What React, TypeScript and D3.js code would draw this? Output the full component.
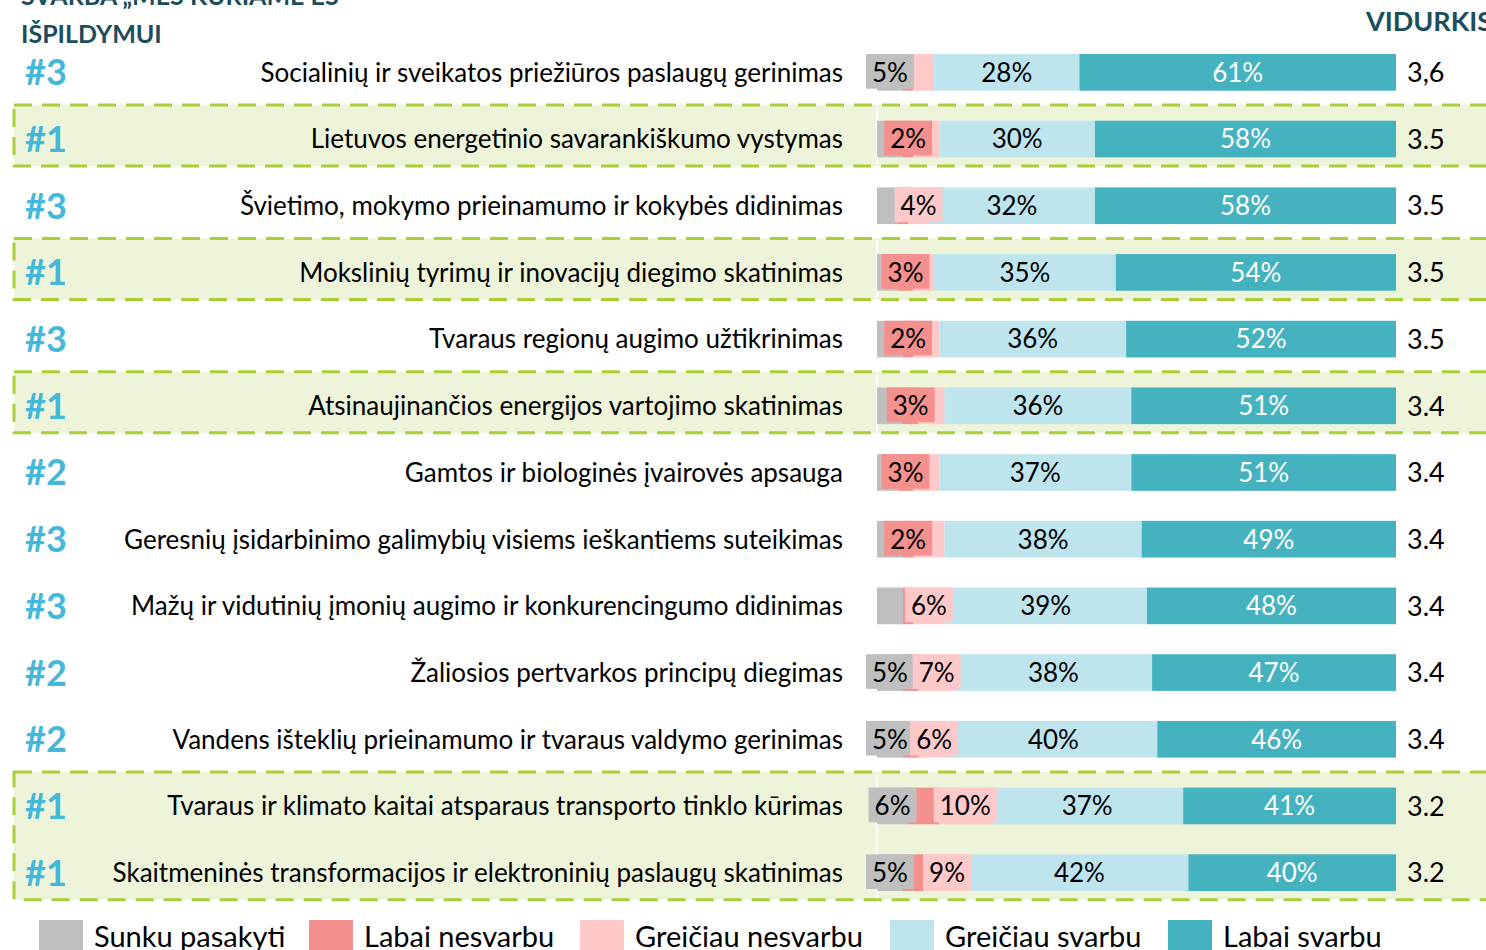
import React, { useEffect, useRef } from "react";
import * as d3 from "d3";

const categories = [
  "Socialinių ir sveikatos priežiūros paslaugų gerinimas",
  "Lietuvos energetinio savarankiškumo vystymas",
  "Švietimo, mokymo prieinamumo ir kokybės didinimas",
  "Mokslinių tyrimų ir inovacijų diegimo skatinimas",
  "Tvaraus regionų augimo užtikrinimas",
  "Atsinaujinančios energijos vartojimo skatinimas",
  "Gamtos ir biologinės įvairovės apsauga",
  "Geresnių įsidarbinimo galimybių visiems ieškantiems suteikimas",
  "Mažų ir vidutinių įmonių augimo ir konkurencingumo didinimas",
  "Žaliosios pertvarkos principų diegimas",
  "Vandens išteklių prieinamumo ir tvaraus valdymo gerinimas",
  "Tvaraus ir klimato kaitai atsparaus transporto tinklo kūrimas",
  "Skaitmeninės transformacijos ir elektroninių paslaugų skatinimas",
];
const ranks = [3, 1, 3, 1, 3, 1, 2, 3, 3, 2, 2, 1, 1];
const averages = ["3,6", "3.5", "3.5", "3.5", "3.5", "3.4", "3.4", "3.4", "3.4", "3.4", "3.4", "3.2", "3.2"];

const seriesNames = ["Sunku pasakyti", "Labai nesvarbu", "Greičiau nesvarbu", "Greičiau svarbu", "Labai svarbu"];
const seriesColors = ["#BFBFBF", "#F4908E", "#FFC9C9", "#BEE5EE", "#45B3BF"];
const labelColors = ["#000", "#000", "#000", "#000", "#fff"];

const sunkuPasakyti = [5, 5, 4, 4, 5, 5, 4, 5, 5, 5, 5, 6, 5];
const labaiNesvarbu = [2, 2, 2, 3, 2, 3, 3, 2, 2, 3, 3, 6, 4];
const greiciauNesvarbu = [4, 5, 4, 4, 5, 5, 5, 6, 6, 7, 6, 10, 9];
const greiciauSvarbu = [28, 30, 32, 35, 36, 36, 37, 38, 39, 38, 40, 37, 42];
const labaiSvarbu = [61, 58, 58, 54, 52, 51, 51, 49, 48, 47, 46, 41, 40];

// which rows carry a data label, per series
const shownLabels = [
  [0, 9, 10, 11, 12],
  [1, 3, 4, 5, 6, 7],
  [2, 8, 9, 10, 11, 12],
  d3.range(13),
  d3.range(13),
];

const FONT = "Lato, 'Open Sans', sans-serif";

export default function App() {
  const ref = useRef<SVGSVGElement>(null);

  useEffect(() => {
    const svg = d3.select(ref.current);
    svg.selectAll("*").remove();

    const values = [sunkuPasakyti, labaiNesvarbu, greiciauNesvarbu, greiciauSvarbu, labaiSvarbu];
    const rows = categories.map((c, i) => {
      const r: any = { cat: c, i };
      seriesNames.forEach((s, k) => (r[s] = values[k][i]));
      return r;
    });
    const series = d3.stack().keys(seriesNames).offset(d3.stackOffsetExpand)(rows);

    const x = d3.scaleLinear().domain([0, 1]).range([877, 1396]);
    const y = d3
      .scaleBand<number>()
      .domain(d3.range(categories.length))
      .range([39, 906])
      .paddingInner(0.45)
      .paddingOuter(0.225);
    const cy = (i: number) => (y(i) as number) + y.bandwidth() / 2;

    // highlighted groups (#1 rows), consecutive rows merged
    const groups: number[][] = [];
    ranks.forEach((r, i) => {
      if (r !== 1) return;
      const last = groups[groups.length - 1];
      if (last && last[last.length - 1] === i - 1) last.push(i);
      else groups.push([i]);
    });
    const hl = svg.append("g");
    groups.forEach((g) => {
      const top = cy(g[0]) - 34;
      const bottom = cy(g[g.length - 1]) + 27;
      hl.append("rect")
        .attr("x", 14).attr("y", top).attr("width", 1490).attr("height", bottom - top)
        .attr("fill", "#EEF4DA")
        .attr("stroke", "#A9CF38").attr("stroke-width", 3).attr("stroke-dasharray", "18 10");
      hl.append("line")
        .attr("x1", x(0)).attr("x2", x(0)).attr("y1", top + 2).attr("y2", bottom - 2)
        .attr("stroke", "#fff").attr("stroke-width", 2);
    });

    // header
    svg.append("text").text("SVARBA „MES KURIAME ES")
      .attr("x", 21).attr("y", 5).attr("font-family", FONT).attr("font-weight", 700)
      .attr("font-size", 25).attr("fill", "#1B4D5C");
    svg.append("text").text("IŠPILDYMUI")
      .attr("x", 21).attr("y", 43).attr("font-family", FONT).attr("font-weight", 700)
      .attr("font-size", 25).attr("fill", "#1B4D5C");
    svg.append("text").text("VIDURKIS")
      .attr("x", 1366).attr("y", 31).attr("font-family", FONT).attr("font-weight", 700)
      .attr("font-size", 27).attr("fill", "#1B4D5C");

    // ranks, categories, averages
    const rowG = svg.append("g").selectAll("g").data(rows).join("g");
    rowG.append("text").text((d: any) => "#" + ranks[d.i])
      .attr("x", 25).attr("y", (d: any) => cy(d.i)).attr("dy", "0.36em")
      .attr("font-family", FONT).attr("font-weight", 700).attr("font-size", 36).attr("fill", "#45B8DA");
    rowG.append("text").text((d: any) => d.cat)
      .attr("x", 843).attr("y", (d: any) => cy(d.i)).attr("dy", "0.36em").attr("text-anchor", "end")
      .attr("font-family", FONT).attr("font-size", 26).attr("fill", "#000");
    rowG.append("text").text((d: any) => averages[d.i])
      .attr("x", 1407).attr("y", (d: any) => cy(d.i)).attr("dy", "0.36em")
      .attr("font-family", FONT).attr("font-size", 27).attr("fill", "#000");

    // segments
    const segG = svg.append("g");
    series.forEach((s, k) => {
      segG.append("g").attr("fill", seriesColors[k])
        .selectAll("rect").data(s).join("rect")
        .attr("x", (d) => x(d[0]))
        .attr("width", (d) => x(d[1]) - x(d[0]))
        .attr("y", (d: any) => y(d.data.i) as number)
        .attr("height", y.bandwidth());
    });

    // data labels with fill boxes
    const labG = svg.append("g");
    series.forEach((s, k) => {
      s.forEach((d: any) => {
        if (!shownLabels[k].includes(d.data.i)) return;
        const mx = (x(d[0]) + x(d[1])) / 2;
        const g = labG.append("g");
        const box = g.append("rect").attr("fill", seriesColors[k]);
        const t = g.append("text").text(values[k][d.data.i] + "%")
          .attr("x", mx).attr("y", cy(d.data.i)).attr("dy", "0.36em").attr("text-anchor", "middle")
          .attr("font-family", FONT).attr("font-size", 26).attr("fill", labelColors[k]);
        const w = (t.node() as SVGTextElement).getComputedTextLength() + 12;
        if (k < 3) {
          box.attr("x", mx - w / 2).attr("width", w)
            .attr("y", y(d.data.i) as number).attr("height", y.bandwidth() - 2);
        }
      });
    });

    // legend
    const leg = svg.append("g").selectAll("g").data(seriesNames).join("g")
      .attr("transform", (d, k) => `translate(${[39, 309, 580, 890, 1168][k]},920)`);
    leg.append("rect").attr("width", 44).attr("height", 40).attr("fill", (d, k) => seriesColors[k]);
    leg.append("text").text((d) => d).attr("x", 55).attr("y", 27)
      .attr("font-family", FONT).attr("font-size", 29).attr("fill", "#000");
  }, []);

  return (
    <svg
      ref={ref}
      width={1486}
      height={950}
      style={{ position: "absolute", left: 0, top: 0, background: "#fff" }}
    />
  );
}
